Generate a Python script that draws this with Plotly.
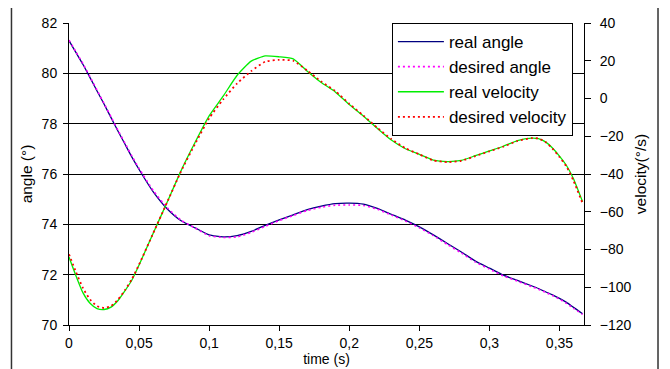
import plotly.graph_objects as go

time_s = [0, 0.005, 0.01, 0.015, 0.02, 0.025, 0.03, 0.035, 0.04, 0.045, 0.05,
          0.06, 0.07, 0.08, 0.09, 0.10, 0.11, 0.12, 0.13, 0.14, 0.15, 0.16, 0.17,
          0.18, 0.19, 0.20, 0.21, 0.22, 0.23, 0.24, 0.25, 0.26, 0.27, 0.28, 0.29,
          0.30, 0.31, 0.32, 0.33, 0.335, 0.34, 0.345, 0.35, 0.355, 0.36, 0.3665]

real_angle = [81.30, 80.82, 80.35, 79.83, 79.30, 78.78, 78.24, 77.70, 77.18, 76.66, 76.18,
              75.30, 74.62, 74.14, 73.86, 73.58, 73.50, 73.55, 73.72, 73.96, 74.18, 74.38, 74.58,
              74.72, 74.82, 74.84, 74.80, 74.63, 74.40, 74.17, 73.90, 73.58, 73.24, 72.90, 72.54,
              72.26, 71.98, 71.77, 71.56, 71.45, 71.32, 71.20, 71.06, 70.90, 70.70, 70.45]

desired_angle = [81.32, 80.85, 80.38, 79.86, 79.33, 78.80, 78.27, 77.73, 77.22, 76.70, 76.22,
                 75.35, 74.66, 74.16, 73.85, 73.55, 73.48, 73.50, 73.68, 73.92, 74.15, 74.35, 74.55,
                 74.68, 74.76, 74.77, 74.75, 74.60, 74.37, 74.13, 73.86, 73.55, 73.20, 72.86, 72.50,
                 72.22, 71.95, 71.74, 71.53, 71.42, 71.30, 71.17, 71.03, 70.86, 70.66, 70.42]

real_velocity = [-84, -94, -103, -108.5, -111.3, -111.8, -110.5, -107, -101.8, -96, -88.2,
                 -71.5, -55, -38.2, -23.2, -9.2, 1.2, 12.3, 19.8, 22.6, 22.1, 21.0, 14.5,
                 8.5, 3.5, -3.2, -9.3, -15.8, -22, -26.6, -29.6, -32.6, -33.4, -32.8, -30.3,
                 -27.8, -25.3, -22.3, -21.0, -21.3, -23.0, -26.2, -30.5, -35.5, -42.5, -54.7]

desired_velocity = [-82.5, -92, -100.5, -106.5, -110, -111, -110, -106.5, -101.5, -95.5, -88,
                    -71.5, -55, -38.5, -24, -10.5, -0.5, 8, 14.5, 19.5, 20.5, 20.0, 14.8,
                    9, 4, -2.8, -9, -15.5, -21.5, -26.3, -29.6, -32.8, -33.7, -33, -30.5,
                    -28, -25.5, -22.5, -21, -21.2, -23, -26.5, -31, -36, -43.5, -55.6]

x_tickvals = [0, 0.05, 0.1, 0.15, 0.2, 0.25, 0.3, 0.35]
x_ticktext = ["0", "0,05", "0,1", "0,15", "0,2", "0,25", "0,3", "0,35"]

FONT = "Liberation Sans, Arial, sans-serif"

fig = go.Figure()
fig.add_trace(go.Scatter(x=time_s, y=real_angle, name="real angle", mode="lines",
                         line=dict(color="#000080", width=1.3, shape="spline", smoothing=0.5),
                         legendgroup="a", yaxis="y"))
fig.add_trace(go.Scatter(x=time_s, y=desired_angle, name="desired angle", mode="lines",
                         line=dict(color="#ff00ff", width=1.6, dash="2px,3px", shape="spline", smoothing=0.5),
                         legendgroup="b", yaxis="y"))
fig.add_trace(go.Scatter(x=time_s, y=real_velocity, name="real velocity", mode="lines",
                         line=dict(color="#00ee00", width=1.3, shape="spline", smoothing=0.5),
                         legendgroup="c", yaxis="y2"))
fig.add_trace(go.Scatter(x=time_s, y=desired_velocity, name="desired velocity", mode="lines",
                         line=dict(color="#ff0000", width=1.8, dash="2px,3px", shape="spline", smoothing=0.5),
                         legendgroup="d", yaxis="y2"))

fig.update_layout(
    width=662, height=361,
    margin=dict(l=61, r=86, t=15, b=44, autoexpand=False),
    paper_bgcolor="white", plot_bgcolor="white",
    font=dict(family=FONT, size=14, color="black"),
    xaxis=dict(range=[0, 0.3675], tickvals=x_tickvals, ticktext=x_ticktext,
               showgrid=False, zeroline=False, showline=True, linecolor="black", linewidth=1,
               ticks="outside", ticklen=5, tickcolor="black", tickfont=dict(size=14),
               title=dict(text="time (s)", font=dict(size=14), standoff=2)),
    yaxis=dict(range=[70, 82], dtick=2, showgrid=True, gridcolor="black", gridwidth=1,
               zeroline=False, showline=True, linecolor="black", linewidth=1,
               ticks="outside", ticklen=5, tickcolor="black", ticklabelstandoff=3,
               tickfont=dict(size=14),
               title=dict(text="angle (°)", font=dict(size=15.5), standoff=5)),
    yaxis2=dict(range=[-120, 40], dtick=20, overlaying="y", side="right",
                showgrid=False, zeroline=False, showline=True, linecolor="black", linewidth=1,
                ticks="outside", ticklen=6, tickcolor="black", ticklabelstandoff=6,
                tickfont=dict(size=14),
                title=dict(text="velocity(°/s)", font=dict(size=15.5), standoff=4)),
    yaxis3=dict(range=[-120, 40], dtick=20, overlaying="y", side="right", anchor="x",
                showgrid=False, zeroline=False, showline=False, showticklabels=False,
                ticks="inside", ticklen=5, tickcolor="black"),
    legend=dict(x=0.627, y=1.0, xanchor="left", yanchor="top",
                bgcolor="white", bordercolor="black", borderwidth=1, itemwidth=46,
                font=dict(size=17, family=FONT), tracegroupgap=2, traceorder="normal"),
    shapes=[dict(type="rect", xref="paper", yref="paper",
                 x0=-0.1117, x1=1.1437, y0=-0.2, y1=1.0596,
                 line=dict(color="#333333", width=1.5), fillcolor="rgba(0,0,0,0)")],
)

fig.write_html("out.html")
